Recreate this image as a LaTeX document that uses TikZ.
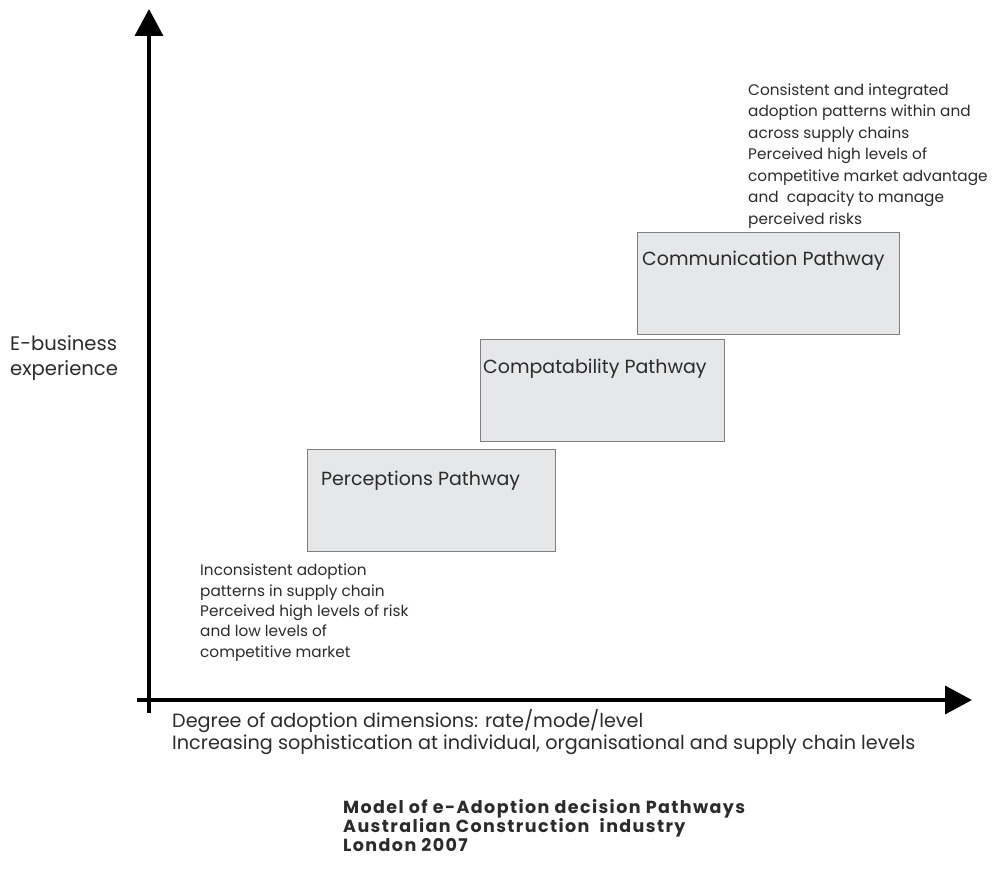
\documentclass[tikz,border=0pt]{standalone}
\usepackage{fontspec}
\setmainfont{Poppins}
\usetikzlibrary{arrows.meta}
\definecolor{boxfill}{HTML}{E6E7E9}
\definecolor{boxline}{HTML}{7F7F7F}
\definecolor{ink}{HTML}{2B2B2B}
\tikzset{
  axis/.style={line width=3.6pt, draw=black, -{Triangle[length=27pt,width=28pt]}},
  pathbox/.style={draw=boxline, fill=boxfill, line width=1.4pt, rectangle, inner sep=0pt},
  boxlabel/.style={font=\fontsize{19}{23}\selectfont, text=ink, inner sep=0pt, anchor=base west},
  % multi-line texts are placed by the baseline of their last line
  note/.style={font=\fontsize{15.3}{21.5}\selectfont, text=ink, inner sep=0pt, anchor=base west, align=left},
  ylabel/.style={font=\fontsize{19.6}{25}\selectfont, text=ink, inner sep=0pt, anchor=base west, align=left},
  xlabel/.style={font=\fontsize{19.2}{21.5}\selectfont, text=ink, inner sep=0pt, anchor=base west, align=left},
  caption/.style={font=\bfseries\fontsize{17.5}{18.7}\selectfont\addfontfeatures{LetterSpace=8}, text=ink, inner sep=0pt, anchor=base west, align=left}
}
\begin{document}
\begin{tikzpicture}[x=1pt, y=-1pt]
  \useasboundingbox (0,0) rectangle (994,872);

  % axes
  \coordinate (ybase) at (149,713);
  \coordinate (ytip) at (149,9);
  \coordinate (xbase) at (137,700);
  \coordinate (xtip) at (972,700);
  \draw[axis] (ybase) -- (ytip);
  \draw[axis] (xbase) -- (xtip);

  % pathway boxes
  \node[pathbox, minimum width=248pt, minimum height=102pt, anchor=north west] (perc) at (307,449) {};
  \node[pathbox, minimum width=244pt, minimum height=102pt, anchor=north west] (compat) at (480,339) {};
  \node[pathbox, minimum width=262pt, minimum height=102pt, anchor=north west] (comm) at (637,232) {};

  \node[boxlabel] (percT) at (321,485) {Perceptions Pathway};
  \node[boxlabel] (compatT) at (483,373) {Compatability Pathway};
  \node[boxlabel] (commT) at (642,265) {Communication Pathway};

  % axis labels
  \node[ylabel] (ylab) at (10,375) {E-business\\experience};
  \node[xlabel] (xlab) at (172,749) {Degree of adoption dimensions: rate/mode/level\\Increasing sophistication at individual, organisational and supply chain levels};

  % notes at both ends of the pathway
  \node[note, font=\fontsize{15.3}{20.3}\selectfont] (low) at (200,657) {Inconsistent adoption\\patterns in supply chain\\Perceived high levels of risk\\and low levels of\\competitive market};
  \node[note] (high) at (748,224) {Consistent and integrated\\adoption patterns within and\\across supply chains\\Perceived high levels of\\competitive market advantage\\and\ \ capacity to manage\\perceived risks};

  % caption
  \node[caption] (cap) at (343,851) {Model of e-Adoption decision Pathways\\Australian Construction\ \ industry\\London 2007};
\end{tikzpicture}
\end{document}
